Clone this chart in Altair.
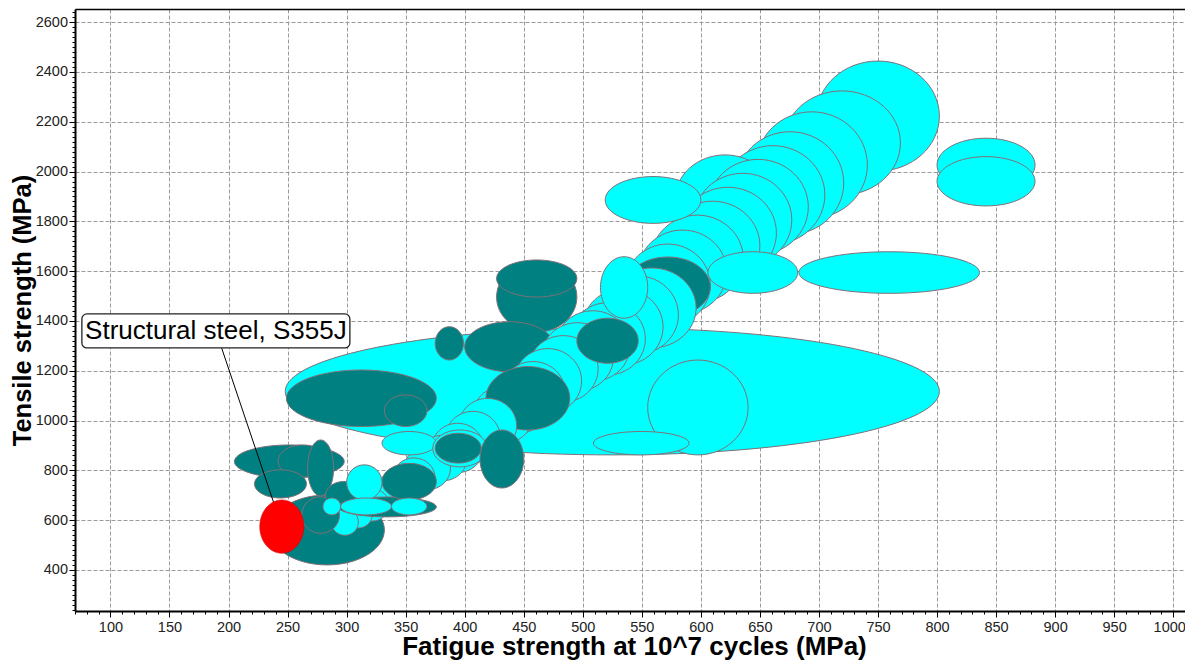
import altair as alt
import pandas as pd

# ---- material ranges (MPa), listed in drawing order ----
# fatigue strength at 10^7 cycles (low / high), tensile strength (low / high), family
fat_lo = [248, 555, 509, 249, 332, 235, 427, 427, 375, 400,
          698, 670, 647, 630, 617, 578, 606, 594, 582, 570, 558, 547, 536, 536,
          521, 512, 500, 489, 477, 465, 454, 442, 431, 419, 407, 418,
          395, 384, 372, 361, 349, 339, 328, 318, 307, 297, 287,
          495, 515, 519, 683, 606, 800, 800,
          205, 242, 267, 222, 262, 282, 293, 330, 300, 280, 295, 338, 330, 373, 375, 413]
fat_hi = [802, 640, 590, 376, 368, 332, 495, 495, 399, 476,
          802, 769, 741, 721, 705, 663, 691, 677, 664, 650, 636, 622, 608, 608,
          596, 581, 568, 553, 540, 526, 513, 499, 485, 471, 458, 489,
          444, 430, 416, 402, 388, 375, 362, 348, 336, 322, 310,
          547, 555, 600, 836, 682, 883, 883,
          298, 284, 289, 266, 294, 313, 376, 376, 330, 295, 338, 368, 376, 419, 414, 450]
ts_lo = [862, 862, 862, 976, 976, 420, 1355, 1496, 1243, 1196,
         2002, 1906, 1813, 1748, 1708, 1705, 1667, 1619, 1570, 1522, 1474, 1429, 1381, 1416,
         1292, 1268, 1223, 1183, 1158, 1118, 1074, 1029, 993, 948, 908, 962,
         868, 831, 791, 758, 722, 689, 657, 629, 596, 568, 539,
         1230, 1411, 1792, 1511, 1511, 1919, 1862,
         769, 773, 697, 689, 547, 641, 613, 681, 681, 621, 621, 621, 862, 814, 829, 729]
ts_hi = [1372, 1243, 956, 1203, 1103, 701, 1637, 1645, 1377, 1397,
         2444, 2324, 2240, 2160, 2104, 2067, 2049, 1993, 1937, 1881, 1825, 1765, 1709, 1657,
         1613, 1581, 1529, 1473, 1441, 1393, 1341, 1289, 1237, 1185, 1137, 1217,
         1089, 1037, 989, 941, 897, 850, 810, 766, 726, 682, 646,
         1411, 1658, 1980, 1678, 1678, 2134, 2060,
         902, 902, 922, 802, 694, 755, 693, 828, 822, 689, 689, 689, 956, 962, 949, 962]
family = (["alloy", "alloy", "alloy", "carbon", "carbon", "carbon", "carbon", "carbon", "carbon", "carbon"]
          + ["alloy"] * 13 + ["carbon"]
          + ["alloy"] * 11 + ["carbon"]
          + ["alloy"] * 11
          + ["carbon", "alloy", "alloy", "alloy", "alloy", "alloy", "alloy"]
          + ["carbon"] * 8 + ["alloy"] * 6 + ["carbon", "carbon"])

# highlighted material
hl_name = "Structural steel, S355J"
hl_fat = [226.5, 263.7]
hl_ts = [467, 681]
label_at = [189.3, 1360]

family_colors = {"alloy": "#00FFFF", "carbon": "#008080"}

x_major = list(range(100, 1001, 50))
y_major = list(range(400, 2601, 200))
x_minor = list(range(70, 1011, 10))
y_minor = list(range(240, 2653, 20))

XD = [70, 1010]
YD = [235, 2653]
W, H = 1110, 602
FONT = "Liberation Sans"
EDGE = "#807078"

sx = W / (XD[1] - XD[0])
sy = H / (YD[1] - YD[0])


def ellipse_path(a, b):
    k = 0.5523
    f = lambda v: f"{v:.2f}"
    return (f"M{f(a)},0C{f(a)},{f(k*b)} {f(k*a)},{f(b)} 0,{f(b)}"
            f"C{f(-k*a)},{f(b)} {f(-a)},{f(k*b)} {f(-a)},0"
            f"C{f(-a)},{f(-k*b)} {f(-k*a)},{f(-b)} 0,{f(-b)}"
            f"C{f(k*a)},{f(-b)} {f(a)},{f(-k*b)} {f(a)},0Z")


def frame(lo_x, hi_x, lo_y, hi_y, colors):
    return pd.DataFrame({
        "xc": [(a + b) / 2 for a, b in zip(lo_x, hi_x)],
        "yc": [(a + b) / 2 for a, b in zip(lo_y, hi_y)],
        "path": [ellipse_path((b - a) / 2 * sx, (d - c) / 2 * sy)
                 for a, b, c, d in zip(lo_x, hi_x, lo_y, hi_y)],
        "col": colors,
    })


df = frame(fat_lo, fat_hi, ts_lo, ts_hi, [family_colors[f] for f in family])
df_hl = frame([hl_fat[0]], [hl_fat[1]], [hl_ts[0]], [hl_ts[1]], ["#FF0000"])
hx = (hl_fat[0] + hl_fat[1]) / 2
hy = (hl_ts[0] + hl_ts[1]) / 2
df_line = pd.DataFrame({"xc": [label_at[0], hx], "yc": [label_at[1], hy]})
df_lab = pd.DataFrame({"xc": [label_at[0]], "yc": [label_at[1]], "txt": [hl_name]})

xs = alt.Scale(domain=XD, nice=False, zero=False)
ys = alt.Scale(domain=YD, nice=False, zero=False)

x_axis = alt.Axis(
    title="Fatigue strength at 10^7 cycles (MPa)", orient="bottom", values=x_major, format="d",
    grid=True, gridColor="#9a9a9a", gridDash=[4, 2], gridWidth=1,
    domain=True, domainColor="black", domainWidth=2,
    ticks=True, tickColor="black", tickSize=6, tickWidth=1,
    labelFont=FONT, labelFontSize=14.5, labelColor="#222222", labelPadding=3,
    labelFlush=False, labelOverlap=False,
    labelOffset=alt.condition("datum.value == 1000", alt.value(-4), alt.value(0)),
    titleFont=FONT, titleFontSize=26, titleFontWeight="bold", titleColor="black",
    titleBaseline="alphabetic", titleY=43, titleX=W / 2 + 4,
)
y_axis = alt.Axis(
    title="Tensile strength (MPa)", orient="left", values=y_major, format="d",
    grid=True, gridColor="#9a9a9a", gridDash=[4, 2], gridWidth=1,
    domain=True, domainColor="black", domainWidth=2,
    ticks=True, tickColor="black", tickSize=6, tickWidth=1,
    labelFont=FONT, labelFontSize=14.5, labelColor="#222222", labelPadding=1.5,
    labelFlush=False, labelOverlap=False,
    titleFont=FONT, titleFontSize=25.5, titleFontWeight="bold", titleColor="black",
    titleBaseline="alphabetic", titleX=-45, titleY=H / 2,
)
x_minor_axis = alt.Axis(orient="bottom", values=x_minor, grid=False, domain=False, labels=False,
                        ticks=True, tickSize=3, tickColor="black", title="")
y_minor_axis = alt.Axis(orient="left", values=y_minor, grid=False, domain=False, labels=False,
                        ticks=True, tickSize=3, tickColor="black", title="")
top_axis = alt.Axis(orient="top", values=[0], grid=False, domain=True, domainColor="black",
                    domainWidth=1.5, labels=False, ticks=False, title="")

bubbles = alt.Chart(df).mark_point(filled=True, opacity=1, stroke=EDGE, strokeWidth=1).encode(
    x=alt.X("xc:Q", scale=xs, axis=x_axis),
    y=alt.Y("yc:Q", scale=ys, axis=y_axis),
    shape=alt.Shape("path:N", scale=None),
    fill=alt.Fill("col:N", scale=None),
    size=alt.value(4),
)

minor = alt.Chart(df).mark_point(opacity=0).encode(
    x=alt.X("xc:Q", scale=xs, axis=x_minor_axis),
    y=alt.Y("yc:Q", scale=ys, axis=y_minor_axis),
)

top = alt.Chart(df).mark_point(opacity=0).encode(
    x=alt.X("xc:Q", scale=xs, axis=top_axis),
    y=alt.Y("yc:Q", scale=ys, axis=None),
)

leader = alt.Chart(df_line).mark_line(color="black", strokeWidth=1).encode(
    x=alt.X("xc:Q", scale=xs, axis=None),
    y=alt.Y("yc:Q", scale=ys, axis=None),
)

highlight = alt.Chart(df_hl).mark_point(filled=True, opacity=1, stroke="#d00000", strokeWidth=0.6).encode(
    x=alt.X("xc:Q", scale=xs, axis=None),
    y=alt.Y("yc:Q", scale=ys, axis=None),
    shape=alt.Shape("path:N", scale=None),
    fill=alt.Fill("col:N", scale=None),
    size=alt.value(4),
)

box = alt.Chart(df_lab).mark_rect(
    fill="white", stroke="#222222", strokeWidth=1.3, cornerRadius=5,
    xOffset=-134, x2Offset=134, yOffset=-17, y2Offset=17,
).encode(
    x=alt.X("xc:Q", scale=xs, axis=None), x2="xc",
    y=alt.Y("yc:Q", scale=ys, axis=None), y2="yc",
)

label = alt.Chart(df_lab).mark_text(
    font=FONT, fontSize=26, color="black", align="center", baseline="middle"
).encode(
    x=alt.X("xc:Q", scale=xs, axis=None),
    y=alt.Y("yc:Q", scale=ys, axis=None),
    text="txt:N",
)

chart = alt.layer(bubbles, minor, top, leader, highlight, box, label).resolve_axis(
    x="independent", y="independent"
).properties(
    width=W, height=H,
    padding={"left": 67, "top": 1, "right": 0, "bottom": 49},
    autosize=alt.AutoSizeParams(type="none"),
    background="white",
).configure_view(strokeOpacity=0)

chart.save("out.html", embed_options={"renderer": "svg", "actions": False})
